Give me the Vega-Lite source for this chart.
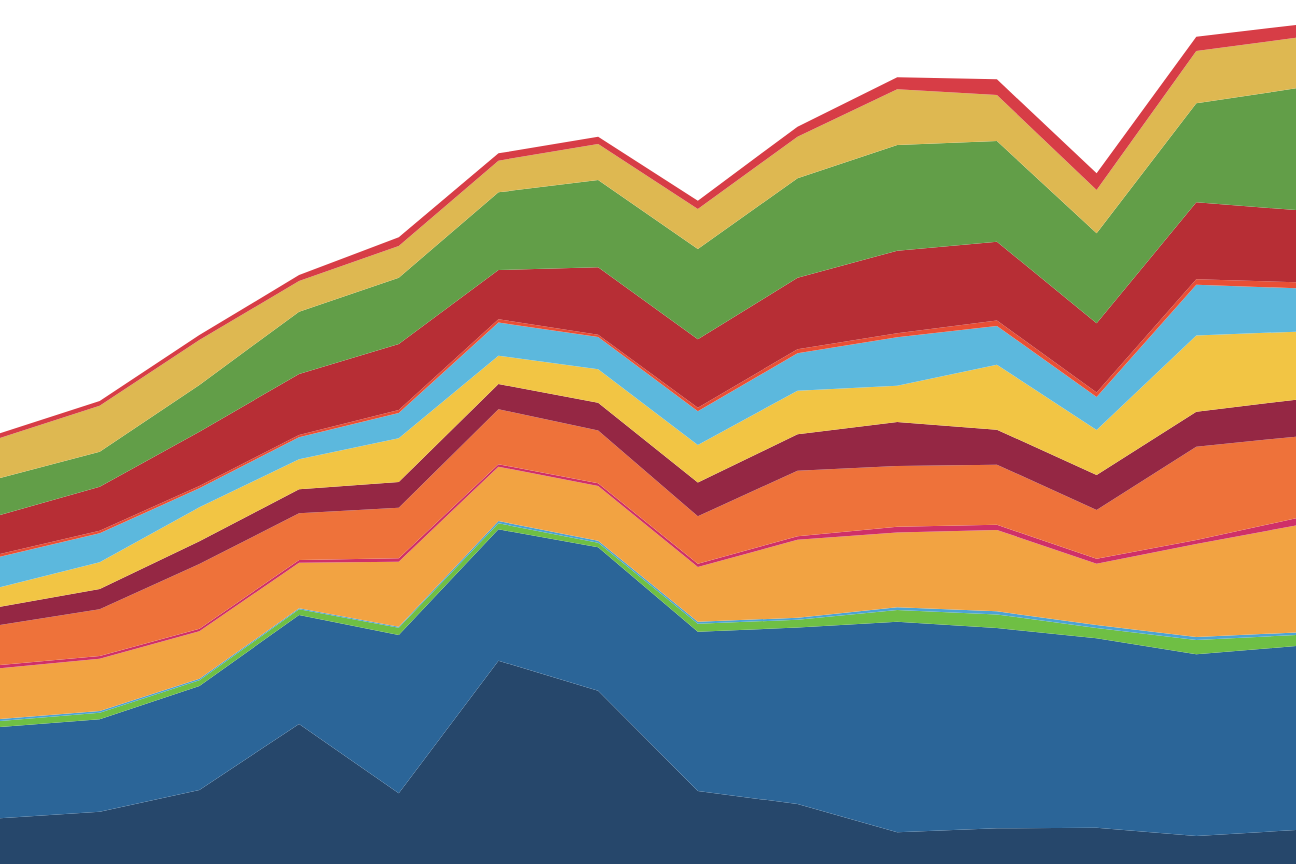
{
  "$schema": "https://vega.github.io/schema/vega-lite/v6.json",
  "autosize": {"type": "fit", "contains": "padding"},
  "width": 1296,
  "height": 864,
  "padding": 0,
  "background": "white",
  "config": {"view": {"stroke": null}},
  "data": {"values": [
    {"x":0,"s":"L01","k":1,"v":45.7},{"x":1,"s":"L01","k":1,"v":52.3},{"x":2,"s":"L01","k":1,"v":74},{"x":3,"s":"L01","k":1,"v":140},{"x":4,"s":"L01","k":1,"v":70.7},{"x":5,"s":"L01","k":1,"v":203.3},{"x":6,"s":"L01","k":1,"v":173.3},{"x":7,"s":"L01","k":1,"v":73},{"x":8,"s":"L01","k":1,"v":60},{"x":9,"s":"L01","k":1,"v":31.7},{"x":10,"s":"L01","k":1,"v":35.7},{"x":11,"s":"L01","k":1,"v":36.3},{"x":12,"s":"L01","k":1,"v":28},{"x":13,"s":"L01","k":1,"v":34},
    {"x":0,"s":"L02","k":2,"v":91.3},{"x":1,"s":"L02","k":2,"v":92.4},{"x":2,"s":"L02","k":2,"v":104},{"x":3,"s":"L02","k":2,"v":109},{"x":4,"s":"L02","k":2,"v":158.3},{"x":5,"s":"L02","k":2,"v":131.4},{"x":6,"s":"L02","k":2,"v":143.4},{"x":7,"s":"L02","k":2,"v":159.3},{"x":8,"s":"L02","k":2,"v":176.5},{"x":9,"s":"L02","k":2,"v":210.6},{"x":10,"s":"L02","k":2,"v":200.3},{"x":11,"s":"L02","k":2,"v":189.4},{"x":12,"s":"L02","k":2,"v":181.7},{"x":13,"s":"L02","k":2,"v":184},
    {"x":0,"s":"L03","k":3,"v":6},{"x":1,"s":"L03","k":3,"v":6.6},{"x":2,"s":"L03","k":3,"v":5.7},{"x":3,"s":"L03","k":3,"v":5.7},{"x":4,"s":"L03","k":3,"v":7.3},{"x":5,"s":"L03","k":3,"v":6},{"x":6,"s":"L03","k":3,"v":4.6},{"x":7,"s":"L03","k":3,"v":8},{"x":8,"s":"L03","k":3,"v":7.8},{"x":9,"s":"L03","k":3,"v":11.7},{"x":10,"s":"L03","k":3,"v":13.5},{"x":11,"s":"L03","k":3,"v":10.3},{"x":12,"s":"L03","k":3,"v":14.3},{"x":13,"s":"L03","k":3,"v":11},
    {"x":0,"s":"L04","k":4,"v":2},{"x":1,"s":"L04","k":4,"v":1.7},{"x":2,"s":"L04","k":4,"v":1.6},{"x":3,"s":"L04","k":4,"v":1},{"x":4,"s":"L04","k":4,"v":1},{"x":5,"s":"L04","k":4,"v":2.3},{"x":6,"s":"L04","k":4,"v":2},{"x":7,"s":"L04","k":4,"v":2},{"x":8,"s":"L04","k":4,"v":2},{"x":9,"s":"L04","k":4,"v":2.7},{"x":10,"s":"L04","k":4,"v":3.2},{"x":11,"s":"L04","k":4,"v":3},{"x":12,"s":"L04","k":4,"v":3},{"x":13,"s":"L04","k":4,"v":2.5},
    {"x":0,"s":"L05","k":5,"v":50.7},{"x":1,"s":"L05","k":5,"v":52.3},{"x":2,"s":"L05","k":5,"v":47.4},{"x":3,"s":"L05","k":5,"v":45.6},{"x":4,"s":"L05","k":5,"v":65},{"x":5,"s":"L05","k":5,"v":54.3},{"x":6,"s":"L05","k":5,"v":54.7},{"x":7,"s":"L05","k":5,"v":54.7},{"x":8,"s":"L05","k":5,"v":78},{"x":9,"s":"L05","k":5,"v":74.8},{"x":10,"s":"L05","k":5,"v":81.3},{"x":11,"s":"L05","k":5,"v":61.3},{"x":12,"s":"L05","k":5,"v":93},{"x":13,"s":"L05","k":5,"v":107},
    {"x":0,"s":"L06","k":6,"v":3.3},{"x":1,"s":"L06","k":6,"v":2.7},{"x":2,"s":"L06","k":6,"v":2.6},{"x":3,"s":"L06","k":6,"v":2.7},{"x":4,"s":"L06","k":6,"v":3.4},{"x":5,"s":"L06","k":6,"v":2.5},{"x":6,"s":"L06","k":6,"v":2.7},{"x":7,"s":"L06","k":6,"v":3.3},{"x":8,"s":"L06","k":6,"v":3.4},{"x":9,"s":"L06","k":6,"v":5.8},{"x":10,"s":"L06","k":6,"v":5.3},{"x":11,"s":"L06","k":6,"v":5},{"x":12,"s":"L06","k":6,"v":4},{"x":13,"s":"L06","k":6,"v":7.2},
    {"x":0,"s":"L07","k":7,"v":40},{"x":1,"s":"L07","k":7,"v":46.7},{"x":2,"s":"L07","k":7,"v":64.7},{"x":3,"s":"L07","k":7,"v":46.7},{"x":4,"s":"L07","k":7,"v":50.5},{"x":5,"s":"L07","k":7,"v":55},{"x":6,"s":"L07","k":7,"v":52.8},{"x":7,"s":"L07","k":7,"v":47.4},{"x":8,"s":"L07","k":7,"v":65.5},{"x":9,"s":"L07","k":7,"v":60.7},{"x":10,"s":"L07","k":7,"v":60},{"x":11,"s":"L07","k":7,"v":48.7},{"x":12,"s":"L07","k":7,"v":93.3},{"x":13,"s":"L07","k":7,"v":81.6},
    {"x":0,"s":"L08","k":8,"v":18.3},{"x":1,"s":"L08","k":8,"v":20.3},{"x":2,"s":"L08","k":8,"v":22.7},{"x":3,"s":"L08","k":8,"v":24},{"x":4,"s":"L08","k":8,"v":25.8},{"x":5,"s":"L08","k":8,"v":25.2},{"x":6,"s":"L08","k":8,"v":27.8},{"x":7,"s":"L08","k":8,"v":33.8},{"x":8,"s":"L08","k":8,"v":36.6},{"x":9,"s":"L08","k":8,"v":44},{"x":10,"s":"L08","k":8,"v":35},{"x":11,"s":"L08","k":8,"v":35},{"x":12,"s":"L08","k":8,"v":35},{"x":13,"s":"L08","k":8,"v":37},
    {"x":0,"s":"L09","k":9,"v":19.4},{"x":1,"s":"L09","k":9,"v":26.7},{"x":2,"s":"L09","k":9,"v":34},{"x":3,"s":"L09","k":9,"v":30},{"x":4,"s":"L09","k":9,"v":43.7},{"x":5,"s":"L09","k":9,"v":28.2},{"x":6,"s":"L09","k":9,"v":33.4},{"x":7,"s":"L09","k":9,"v":37.5},{"x":8,"s":"L09","k":9,"v":43.4},{"x":9,"s":"L09","k":9,"v":36.3},{"x":10,"s":"L09","k":9,"v":65},{"x":11,"s":"L09","k":9,"v":45},{"x":12,"s":"L09","k":9,"v":76.2},{"x":13,"s":"L09","k":9,"v":68},
    {"x":0,"s":"L10","k":10,"v":30.6},{"x":1,"s":"L10","k":10,"v":29},{"x":2,"s":"L10","k":10,"v":19},{"x":3,"s":"L10","k":10,"v":22},{"x":4,"s":"L10","k":10,"v":25.3},{"x":5,"s":"L10","k":10,"v":33.3},{"x":6,"s":"L10","k":10,"v":32.3},{"x":7,"s":"L10","k":10,"v":33.7},{"x":8,"s":"L10","k":10,"v":37.5},{"x":9,"s":"L10","k":10,"v":48.4},{"x":10,"s":"L10","k":10,"v":38.7},{"x":11,"s":"L10","k":10,"v":33},{"x":12,"s":"L10","k":10,"v":50.8},{"x":13,"s":"L10","k":10,"v":43.4},
    {"x":0,"s":"L11","k":11,"v":2.7},{"x":1,"s":"L11","k":11,"v":2.6},{"x":2,"s":"L11","k":11,"v":2.3},{"x":3,"s":"L11","k":11,"v":2.3},{"x":4,"s":"L11","k":11,"v":3},{"x":5,"s":"L11","k":11,"v":3.2},{"x":6,"s":"L11","k":11,"v":2.3},{"x":7,"s":"L11","k":11,"v":3.6},{"x":8,"s":"L11","k":11,"v":4.1},{"x":9,"s":"L11","k":11,"v":4},{"x":10,"s":"L11","k":11,"v":5.5},{"x":11,"s":"L11","k":11,"v":4.5},{"x":12,"s":"L11","k":11,"v":5.5},{"x":13,"s":"L11","k":11,"v":6.1},
    {"x":0,"s":"L12","k":12,"v":39},{"x":1,"s":"L12","k":12,"v":44},{"x":2,"s":"L12","k":12,"v":54.3},{"x":3,"s":"L12","k":12,"v":61},{"x":4,"s":"L12","k":12,"v":66},{"x":5,"s":"L12","k":12,"v":49.3},{"x":6,"s":"L12","k":12,"v":67.4},{"x":7,"s":"L12","k":12,"v":68.4},{"x":8,"s":"L12","k":12,"v":71.5},{"x":9,"s":"L12","k":12,"v":82.6},{"x":10,"s":"L12","k":12,"v":78.8},{"x":11,"s":"L12","k":12,"v":69.2},{"x":12,"s":"L12","k":12,"v":76.9},{"x":13,"s":"L12","k":12,"v":72.2},
    {"x":0,"s":"L13","k":13,"v":37},{"x":1,"s":"L13","k":13,"v":35},{"x":2,"s":"L13","k":13,"v":46.7},{"x":3,"s":"L13","k":13,"v":62.3},{"x":4,"s":"L13","k":13,"v":66.3},{"x":5,"s":"L13","k":13,"v":77.7},{"x":6,"s":"L13","k":13,"v":87.3},{"x":7,"s":"L13","k":13,"v":90.3},{"x":8,"s":"L13","k":13,"v":99.4},{"x":9,"s":"L13","k":13,"v":105.7},{"x":10,"s":"L13","k":13,"v":100.7},{"x":11,"s":"L13","k":13,"v":90},{"x":12,"s":"L13","k":13,"v":99},{"x":13,"s":"L13","k":13,"v":121.7},
    {"x":0,"s":"L14","k":14,"v":40},{"x":1,"s":"L14","k":14,"v":46},{"x":2,"s":"L14","k":14,"v":45},{"x":3,"s":"L14","k":14,"v":30.7},{"x":4,"s":"L14","k":14,"v":31.7},{"x":5,"s":"L14","k":14,"v":31.6},{"x":6,"s":"L14","k":14,"v":36},{"x":7,"s":"L14","k":14,"v":40},{"x":8,"s":"L14","k":14,"v":41.6},{"x":9,"s":"L14","k":14,"v":55.7},{"x":10,"s":"L14","k":14,"v":46},{"x":11,"s":"L14","k":14,"v":43.3},{"x":12,"s":"L14","k":14,"v":52.3},{"x":13,"s":"L14","k":14,"v":50.6},
    {"x":0,"s":"L15","k":15,"v":4.7},{"x":1,"s":"L15","k":15,"v":4.7},{"x":2,"s":"L15","k":15,"v":5},{"x":3,"s":"L15","k":15,"v":6},{"x":4,"s":"L15","k":15,"v":8.7},{"x":5,"s":"L15","k":15,"v":7.4},{"x":6,"s":"L15","k":15,"v":7.3},{"x":7,"s":"L15","k":15,"v":8.3},{"x":8,"s":"L15","k":15,"v":10},{"x":9,"s":"L15","k":15,"v":12},{"x":10,"s":"L15","k":15,"v":15.7},{"x":11,"s":"L15","k":15,"v":16.7},{"x":12,"s":"L15","k":15,"v":14.3},{"x":13,"s":"L15","k":15,"v":12.7}
  ]},
  "mark": {"type": "area", "interpolate": "linear"},
  "encoding": {
    "x": {"field": "x", "type": "quantitative", "axis": null, "scale": {"domain": [0, 13], "nice": false, "zero": false}},
    "y": {"field": "v", "type": "quantitative", "stack": "zero", "axis": null, "scale": {"domain": [0, 864], "nice": false}},
    "order": {"field": "k", "type": "quantitative", "sort": "ascending"},
    "color": {
      "field": "s", "type": "nominal", "legend": null,
      "scale": {
        "domain": ["L01","L02","L03","L04","L05","L06","L07","L08","L09","L10","L11","L12","L13","L14","L15"],
        "range": ["#26476b","#2b6598","#6fbf44","#4da3d4","#f2a342","#cf3068","#ee723a","#952744","#f2c544","#5cb8dd","#e94f35","#b72e35","#629e48","#deb851","#d73d46"]
      }
    }
  }
}
